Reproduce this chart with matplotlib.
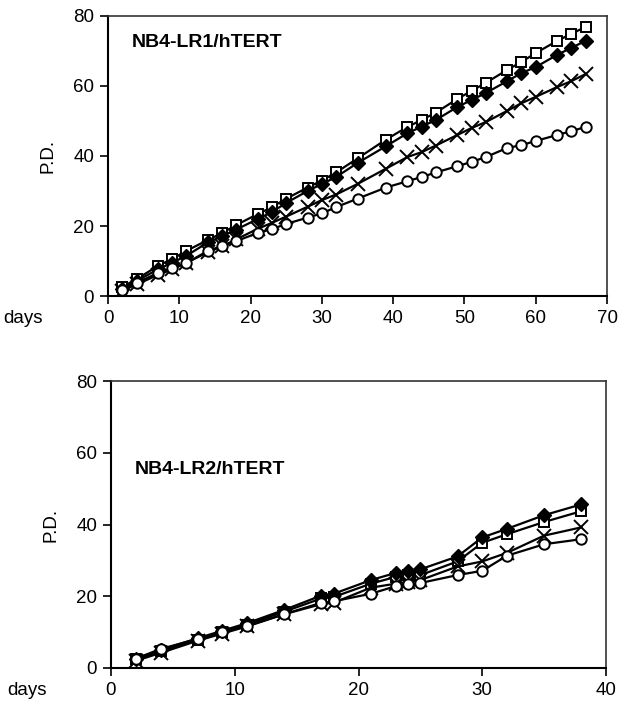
import matplotlib
matplotlib.use("Agg")
import matplotlib.pyplot as plt

plt.rcParams['font.family'] = ['Liberation Sans', 'DejaVu Sans']

# ---- top panel data (NB4-LR1/hTERT) ----
days_top = [2, 4, 7, 9, 11, 14, 16, 18, 21, 23, 25, 28, 30, 32, 35, 39, 42, 44, 46,
            49, 51, 53, 56, 58, 60, 63, 65, 67]
top_square = [2.6, 4.8, 8.6, 10.6, 12.9, 16.0, 18.0, 20.3, 23.4, 25.4, 27.8, 31.0, 33.0,
              35.3, 39.3, 44.7, 48.3, 50.3, 52.4, 56.3, 58.6, 60.9, 64.6, 66.9, 69.4, 72.9,
              74.9, 76.9]
top_diamond = [2.0, 4.3, 7.6, 9.5, 11.5, 15.3, 17.1, 19.0, 22.0, 24.0, 26.6, 30.0, 32.0,
               34.0, 38.0, 42.8, 46.5, 48.4, 50.3, 54.0, 56.0, 58.0, 61.4, 63.7, 65.4, 68.9,
               70.9, 72.9]
top_cross = [1.5, 3.3, 6.0, 7.6, 9.5, 12.5, 14.2, 16.2, 19.2, 20.9, 22.7, 25.5, 27.4,
             29.0, 32.0, 36.4, 39.7, 41.1, 43.0, 46.0, 48.0, 49.7, 52.9, 55.1, 56.9, 59.7,
             61.4, 63.4]
top_circle = [1.7, 3.7, 6.6, 8.0, 9.4, 12.9, 14.3, 15.7, 18.0, 19.1, 20.6, 22.4, 23.6,
              25.4, 27.8, 31.0, 32.8, 34.0, 35.3, 37.1, 38.3, 39.7, 42.3, 43.1, 44.3, 46.0,
              47.1, 48.3]

# ---- bottom panel data (NB4-LR2/hTERT) ----
days_bot = [2, 4, 7, 9, 11, 14, 17, 18, 21, 23, 24, 25, 28, 30, 32, 35, 38]
bot_diamond = [2.6, 5.0, 8.3, 10.4, 12.5, 16.2, 20.2, 20.7, 24.5, 26.5, 26.9, 27.5, 31.1,
               36.4, 38.8, 42.6, 45.6]
bot_square = [2.4, 4.6, 7.9, 10.0, 12.1, 15.7, 19.4, 19.8, 23.5, 25.4, 25.8, 25.9, 29.7,
              34.9, 37.3, 40.7, 43.7]
bot_cross = [2.0, 4.2, 7.6, 9.6, 11.6, 15.0, 17.8, 18.2, 22.4, 23.5, 24.0, 24.5, 28.3,
             29.7, 32.1, 36.9, 39.2]
bot_circle = [2.6, 5.3, 8.1, 10.0, 11.7, 15.0, 18.2, 18.6, 20.7, 22.8, 23.3, 23.7, 25.9,
              27.1, 31.3, 34.5, 35.9]

yticks = [0, 20, 40, 60, 80]
xticks_top = [0, 10, 20, 30, 40, 50, 60, 70]
xticks_bot = [0, 10, 20, 30, 40]
titles = ["NB4-LR1/hTERT", "NB4-LR2/hTERT"]

W, H = 618, 701
fig = plt.figure(figsize=(W / 100, H / 100), dpi=100)

ax1 = fig.add_axes([108 / W, 1 - 296 / H, 499 / W, 280 / H])
ax2 = fig.add_axes([111 / W, 1 - 668 / H, 495 / W, 287 / H])

lw = 1.6
ms = 7.5


def draw(ax, days, sq, dm, cr, ci):
    ax.plot(days, sq, '-', color='black', lw=lw, marker='s', ms=ms,
            mfc='white', mec='black', mew=1.4, zorder=3)
    ax.plot(days, dm, '-', color='black', lw=lw, marker='D', ms=ms * 0.9,
            mfc='black', mec='black', mew=1.0, zorder=4)
    ax.plot(days, cr, '-', color='black', lw=lw, marker='x', ms=ms * 1.35,
            mec='black', mew=1.4, zorder=5)
    ax.plot(days, ci, '-', color='black', lw=lw, marker='o', ms=ms,
            mfc='white', mec='black', mew=1.4, zorder=6)


draw(ax1, days_top, top_square, top_diamond, top_cross, top_circle)
draw(ax2, days_bot, bot_square, bot_diamond, bot_cross, bot_circle)

for ax, xt, title, ty in [(ax1, xticks_top, titles[0], 0.905),
                          (ax2, xticks_bot, titles[1], 0.69)]:
    ax.set_xlim(xt[0], xt[-1])
    ax.set_ylim(0, 80)
    ax.set_xticks(xt)
    ax.set_yticks(yticks)
    ax.tick_params(direction='out', length=6, width=1.2, labelsize=13.5, pad=4)
    for s in ['left', 'bottom']:
        ax.spines[s].set_linewidth(1.5)
    for s in ['top', 'right']:
        ax.spines[s].set_linewidth(1.2)
        ax.spines[s].set_color('#333333')
    ax.set_ylabel('P.D.', fontsize=13.5, labelpad=12)
    ax.text(0.048, ty, title, transform=ax.transAxes, fontsize=14,
            fontweight='bold', ha='left', va='center')
    ax.text(-0.21, -0.08, 'days', transform=ax.transAxes, fontsize=13.5,
            ha='left', va='center')

fig.savefig('out.png', dpi=100)
